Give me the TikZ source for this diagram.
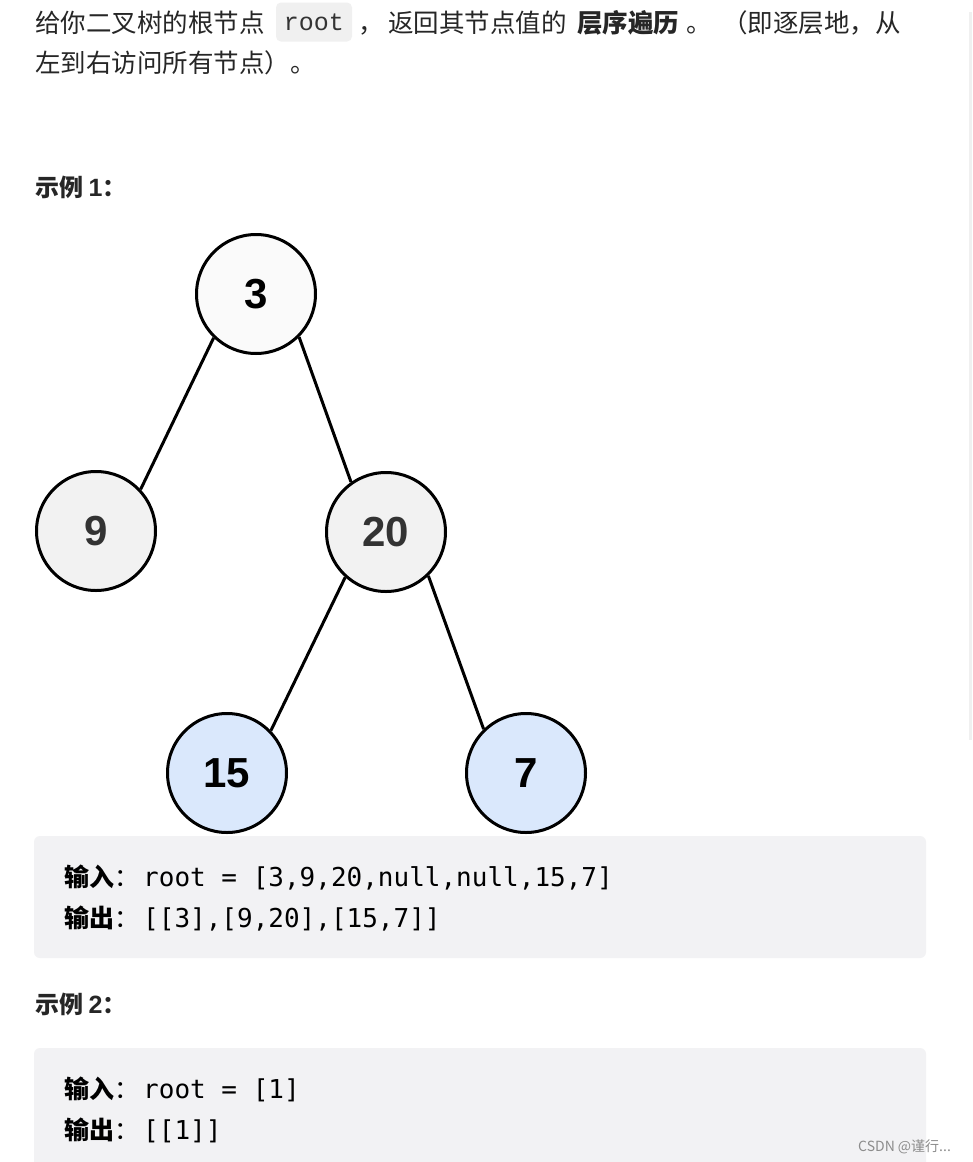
\documentclass[tikz,border=0pt]{standalone}
\usepackage{fontspec}
\setmainfont{Liberation Sans}
\newfontfamily\cjk{Noto Sans CJK SC}
\newfontfamily\codefont{DejaVu Sans Mono}
\newfontfamily\inlinecode{Liberation Mono}
\definecolor{txt}{HTML}{262626}
\definecolor{codebg}{HTML}{F2F2F4}
\definecolor{inbg}{HTML}{F0F0F0}
\definecolor{wfill}{HTML}{FAFAFA}
\definecolor{gfill}{HTML}{F2F2F2}
\definecolor{bfill}{HTML}{DAE8FC}
\definecolor{numgray}{HTML}{333333}
\tikzset{
  tnode/.style={circle, draw=black, line width=3pt, minimum size=119pt, inner sep=0pt, font=\fontsize{42}{42}\selectfont\bfseries},
  edge/.style={line width=3pt, black},
  title/.style={anchor=base west, inner sep=0pt, text=txt, font=\cjk\fontsize{25.5}{30}\selectfont},
  codetxt/.style={anchor=base west, inner sep=0pt, text=black, font=\codefont\fontsize{26}{30}\selectfont},
  codelbl/.style={anchor=base west, inner sep=0pt, text=black, font=\cjk\fontsize{25}{30}\selectfont},
  codebox/.style={fill=codebg, rounded corners=6pt, draw=none},
  heading/.style={anchor=base west, inner sep=0pt, text=txt, font=\cjk\bfseries\fontsize{24}{28}\selectfont}
}
\begin{document}
\begin{tikzpicture}[x=1pt,y=-1pt]
\useasboundingbox[fill=white] (0,0) rectangle (972,1162);
% scrollbar
\fill[gray!12] (969,12) rectangle (972,740);
% title line 1
\node[title] (t1) at (35,32) {给你二叉树的根节点};
\node[fill=inbg, rounded corners=5pt, minimum width=76pt, minimum height=39pt, inner sep=0pt, text=numgray, font=\inlinecode\fontsize{25}{25}\selectfont] (rootcode) at (314,22) {root};
\node[title] (t2) at (358,32) {，};
\node[title] (t3) at (388,32) {返回其节点值的};
\node[title, font=\cjk\bfseries\fontsize{25.5}{30}\selectfont] (t4) at (577,32) {层序遍历};
\node[title] (t5) at (686,32) {。};
\node[title] (t6) at (722,32) {（即逐层地，从};
\node[title] (t7) at (35,72) {左到右访问所有节点）。};
% example 1 heading
\node[heading] (h1) at (35,196) {示例 {\fontspec{Liberation Sans}\bfseries\fontsize{25}{28}\selectfont 1}：};
% tree
\begin{scope}
\clip (30,232) rectangle (587,834);
\node[tnode, fill=wfill, text=black] (n3) at (256,294) {3};
\node[tnode, fill=gfill, text=numgray] (n9) at (96,531) {9};
\node[tnode, fill=gfill, text=numgray] (n20) at (386,532) {20};
\node[tnode, fill=bfill, text=black] (n15) at (227,773) {15};
\node[tnode, fill=bfill, text=black] (n7) at (526,773) {7};
\draw[edge] (n3.226) -- (n9.43);
\draw[edge] (n3.315) -- (n20.125);
\draw[edge] (n20.228) -- (n15.44);
\draw[edge] (n20.314) -- (n7.134);
\end{scope}
% code box 1
\path[codebox] (34,836) rectangle (926,958);
\node[codelbl, font=\cjk\bfseries\fontsize{25}{30}\selectfont] (in1) at (64,886) {输入};
\node[codelbl] (in1k) at (114,886) {：};
\node[codetxt] (in1c) at (143,886) {root = [3,9,20,null,null,15,7]};
\node[codelbl, font=\cjk\bfseries\fontsize{25}{30}\selectfont] (out1) at (64,927) {输出};
\node[codelbl] (out1k) at (114,927) {：};
\node[codetxt] (out1c) at (143,927) {[[3],[9,20],[15,7]]};
% example 2 heading
\node[heading] (h2) at (35,1013) {示例 {\fontspec{Liberation Sans}\bfseries\fontsize{25}{28}\selectfont 2}：};
% code box 2
\path[codebox] (34,1048) rectangle (926,1175);
\node[codelbl, font=\cjk\bfseries\fontsize{25}{30}\selectfont] (in2) at (64,1098) {输入};
\node[codelbl] (in2k) at (114,1098) {：};
\node[codetxt] (in2c) at (143,1098) {root = [1]};
\node[codelbl, font=\cjk\bfseries\fontsize{25}{30}\selectfont] (out2) at (64,1139) {输出};
\node[codelbl] (out2k) at (114,1139) {：};
\node[codetxt] (out2c) at (143,1139) {[[1]]};
% watermark
\node[anchor=base west, inner sep=0pt, text=black!45, font=\cjk\fontsize{14}{16}\selectfont] (wm) at (858,1151) {CSDN @谨行...};
\end{tikzpicture}
\end{document}
